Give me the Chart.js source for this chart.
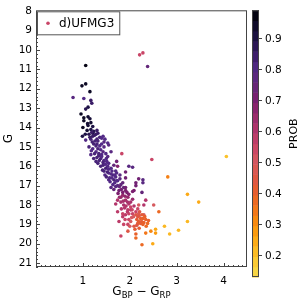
<!DOCTYPE html>
<html>
<head>
<meta charset="utf-8">
<script src="https://cdn.jsdelivr.net/npm/chart.js@4.4.1/dist/chart.umd.min.js"></script>
<style>
  html, body { margin: 0; padding: 0; background: #fff; }
  #wrap { width: 299px; height: 301px; }
</style>
</head>
<body>
<div id="wrap"><canvas id="chart" width="299" height="301"></canvas></div>
<script>
const clusterName = 'd)UFMG3';

const bpRp = [
  1.06, 0.98, 1.06, 1.15, 0.79, 1.02, 1.17, 1.19, 1.11, 1.06, 0.96, 1.11, 1.02, 1.15, 1.02, 1.17, 1.11, 1.00, 1.21, 1.17,
  1.23, 1.32, 1.09, 1.21, 2.21, 2.28, 2.38, 1.19, 1.28, 1.21, 1.43, 1.17, 1.06, 1.32, 1.45, 1.53, 1.23, 1.36, 1.13, 1.21,
  1.32, 1.45, 1.28, 1.43, 1.83, 1.17, 1.34, 1.53, 1.23, 1.45, 1.72, 1.66, 1.74, 1.32, 1.43, 1.53, 1.45, 1.55, 1.64, 1.57,
  1.66, 1.74, 1.85, 1.87, 1.74, 1.64, 1.66, 1.77, 1.91, 1.30, 1.38, 1.49, 1.38, 1.51, 1.60, 1.49, 1.62, 1.70, 1.79, 1.68,
  1.81, 1.55, 1.47, 1.26, 1.36, 1.34, 1.28, 1.47, 1.55, 1.60, 1.72, 1.79, 1.98, 2.06, 1.91, 2.19, 2.13, 2.09, 1.70, 1.91,
  2.28, 2.13, 1.91, 2.06, 2.26, 1.85, 1.74, 1.91, 2.06, 2.34, 1.98, 1.87, 2.09, 2.17, 2.30, 1.96, 2.06, 1.91, 2.19, 2.17,
  2.28, 2.19, 2.34, 1.98, 1.85, 1.77, 1.96, 2.23, 1.81, 1.96, 2.02, 1.89, 2.02, 2.13, 1.81, 1.98, 1.94, 1.70, 2.02, 2.19,
  2.51, 2.62, 1.74, 1.85, 1.98, 2.13, 2.23, 2.02, 1.87, 2.17, 2.28, 2.38, 1.96, 1.81, 2.13, 2.34, 2.45, 2.55, 2.55, 2.74,
  2.85, 2.13, 2.49, 2.26, 2.47, 4.06, 2.81, 2.28, 3.23, 3.47, 2.30, 3.23, 3.04, 2.21, 2.26, 2.15, 2.32, 2.09, 2.11, 2.04,
  1.25, 1.15, 1.40, 1.30, 1.20, 1.40, 1.28, 1.18, 1.25, 1.40, 1.30, 1.40, 1.50, 1.35, 1.43, 1.38, 1.48, 1.55, 1.42, 1.52,
  1.60, 1.50, 1.62, 1.58, 1.68, 1.72, 1.70, 1.78, 1.82, 1.75, 1.85, 1.90, 1.78, 1.86, 1.95, 1.92, 2.05, 1.82, 1.95, 2.08,
  2.20, 2.25, 2.15, 2.30, 2.35, 2.20, 2.40, 1.90, 2.00, 1.60, 1.55, 1.10, 1.05, 1.13, 0.99, 1.30
];
const gMag = [
  10.80, 11.85, 11.75, 12.15, 12.45, 12.50, 12.60, 12.75, 12.95, 13.05, 13.30, 13.45, 13.50, 13.55, 13.65, 13.75, 13.90, 14.00, 13.95, 14.10,
  14.20, 14.30, 14.15, 14.30, 10.25, 10.15, 10.85, 14.25, 14.35, 14.45, 14.45, 14.60, 14.65, 14.70, 14.75, 14.80, 14.85, 14.95, 15.00, 15.10,
  15.10, 15.00, 15.25, 15.25, 15.35, 15.40, 15.45, 15.50, 15.60, 15.70, 15.75, 15.95, 16.00, 15.85, 15.95, 16.00, 16.25, 16.35, 16.45, 16.60,
  16.70, 16.75, 16.85, 17.10, 17.00, 16.95, 17.20, 17.25, 17.25, 14.85, 15.15, 15.35, 15.60, 15.75, 16.10, 16.10, 16.25, 16.55, 16.65, 16.85,
  16.95, 15.85, 14.60, 14.70, 14.50, 15.35, 15.75, 16.45, 16.70, 17.10, 16.35, 16.45, 16.00, 16.05, 16.60, 16.65, 17.00, 17.25, 16.25, 16.30,
  16.85, 16.85, 17.10, 17.30, 17.35, 17.50, 17.75, 17.75, 17.70, 17.75, 17.95, 18.00, 18.05, 18.20, 18.00, 18.25, 18.45, 18.50, 18.45, 18.60,
  18.70, 18.85, 18.75, 18.75, 18.60, 18.85, 19.00, 18.95, 17.60, 17.60, 17.85, 18.15, 18.25, 18.35, 17.85, 17.45, 17.35, 17.95, 18.10, 18.00,
  18.00, 18.35, 18.35, 18.45, 18.45, 18.50, 18.70, 18.85, 19.00, 18.95, 19.00, 18.95, 19.35, 19.60, 19.50, 19.45, 19.35, 19.25, 19.45, 19.10,
  19.50, 19.70, 20.00, 20.05, 15.65, 15.50, 16.55, 16.70, 17.45, 17.85, 18.50, 18.85, 19.30, 18.35, 18.50, 18.75, 18.60, 19.10, 19.25, 18.65,
  14.40, 14.50, 14.55, 14.60, 14.75, 14.85, 14.95, 15.20, 15.35, 15.40, 15.55, 15.50, 15.60, 15.70, 15.80, 16.00, 15.90, 16.15, 16.20, 16.30,
  16.40, 16.55, 16.60, 16.80, 16.45, 16.75, 17.05, 17.05, 17.20, 17.40, 17.35, 17.55, 17.60, 17.80, 17.85, 18.05, 18.25, 18.20, 18.35, 18.60,
  18.55, 18.85, 19.05, 18.90, 19.10, 19.20, 18.80, 18.75, 19.10, 15.25, 14.90, 13.80, 14.35, 14.35, 14.45, 14.15
];
const prob = [
  0.97, 0.95, 0.95, 0.95, 0.78, 0.80, 0.85, 0.85, 0.90, 0.88, 0.95, 0.93, 0.95, 0.92, 0.95, 0.93, 0.92, 0.95, 0.90, 0.90,
  0.88, 0.85, 0.93, 0.90, 0.55, 0.55, 0.75, 0.85, 0.85, 0.85, 0.80, 0.82, 0.80, 0.82, 0.78, 0.80, 0.83, 0.80, 0.82, 0.80,
  0.82, 0.78, 0.80, 0.78, 0.55, 0.80, 0.82, 0.78, 0.82, 0.80, 0.72, 0.75, 0.68, 0.82, 0.82, 0.80, 0.82, 0.80, 0.82, 0.80,
  0.82, 0.80, 0.75, 0.75, 0.78, 0.80, 0.75, 0.72, 0.70, 0.82, 0.80, 0.80, 0.82, 0.80, 0.80, 0.82, 0.80, 0.80, 0.78, 0.80,
  0.76, 0.80, 0.80, 0.82, 0.82, 0.82, 0.82, 0.80, 0.80, 0.78, 0.80, 0.78, 0.78, 0.78, 0.72, 0.72, 0.72, 0.70, 0.80, 0.72,
  0.78, 0.72, 0.72, 0.70, 0.75, 0.65, 0.60, 0.62, 0.65, 0.60, 0.60, 0.62, 0.60, 0.55, 0.60, 0.58, 0.55, 0.58, 0.50, 0.45,
  0.40, 0.42, 0.40, 0.55, 0.58, 0.58, 0.55, 0.42, 0.65, 0.65, 0.62, 0.60, 0.58, 0.55, 0.62, 0.68, 0.70, 0.60, 0.55, 0.50,
  0.50, 0.38, 0.58, 0.55, 0.55, 0.45, 0.40, 0.50, 0.55, 0.42, 0.40, 0.38, 0.45, 0.55, 0.40, 0.35, 0.32, 0.25, 0.28, 0.22,
  0.22, 0.38, 0.25, 0.38, 0.55, 0.20, 0.33, 0.78, 0.25, 0.25, 0.50, 0.22, 0.22, 0.45, 0.42, 0.42, 0.40, 0.45, 0.42, 0.50,
  0.85, 0.85, 0.80, 0.82, 0.83, 0.80, 0.82, 0.80, 0.82, 0.80, 0.82, 0.80, 0.80, 0.82, 0.82, 0.82, 0.80, 0.80, 0.82, 0.82,
  0.80, 0.82, 0.80, 0.80, 0.80, 0.80, 0.78, 0.75, 0.72, 0.70, 0.70, 0.66, 0.65, 0.62, 0.62, 0.60, 0.55, 0.60, 0.58, 0.50,
  0.45, 0.42, 0.45, 0.40, 0.38, 0.42, 0.40, 0.55, 0.50, 0.78, 0.78, 0.93, 0.90, 0.88, 0.90, 0.85
];

const xTicks = [1, 2, 3, 4];
const yTicks = [8, 9, 10, 11, 12, 13, 14, 15, 16, 17, 18, 19, 20, 21];
const cbTicks = [0.2, 0.3, 0.4, 0.5, 0.6, 0.7, 0.8, 0.9];
const probMin = 0.13, probMax = 0.99;

// inferno-like, reversed (low prob = yellow, high prob = black)
const cmapStops = [
  [0.13, '#f6dc4c'], [0.20, '#fbc22a'], [0.25, '#fcaa16'], [0.30, '#f9900c'], [0.35, '#f2761b'],
  [0.40, '#e8602a'], [0.45, '#de5745'], [0.50, '#d65a5f'], [0.55, '#c94567'], [0.60, '#b3356b'],
  [0.65, '#972a6c'], [0.70, '#7b1f6f'], [0.75, '#632779'], [0.80, '#532a86'], [0.85, '#3a1c66'],
  [0.90, '#1d1245'], [0.95, '#0d0a25'], [0.99, '#000004']
];

const hexRgb = h => [1, 3, 5].map(i => parseInt(h.slice(i, i + 2), 16));
const probColor = p => {
  if (p <= cmapStops[0][0]) return cmapStops[0][1];
  for (let i = 1; i < cmapStops.length; i++) {
    if (p <= cmapStops[i][0]) {
      const [p0, c0] = cmapStops[i - 1], [p1, c1] = cmapStops[i];
      const t = (p - p0) / (p1 - p0);
      const a = hexRgb(c0), b = hexRgb(c1);
      const c = a.map((v, k) => Math.round(v + (b[k] - v) * t));
      return `rgb(${c[0]},${c[1]},${c[2]})`;
    }
  }
  return cmapStops[cmapStops.length - 1][1];
};

const FONT = "'DejaVu Sans', sans-serif";

const framePlugin = {
  id: 'frame',
  afterDatasetsDraw(chart) {
    const { ctx, chartArea: a, scales } = chart;
    ctx.save();
    ctx.strokeStyle = '#444';
    ctx.lineWidth = 1;
    // minor ticks, inward
    ctx.beginPath();
    for (let v = 8; v <= 21.2; v += 0.2) {
      const y = Math.round(scales.y.getPixelForValue(v)) + 0.5;
      ctx.moveTo(a.left, y); ctx.lineTo(a.left + 2, y);
    }
    for (let v = 0.1; v < 4.5; v += 0.1) {
      const x = Math.round(scales.x.getPixelForValue(v)) + 0.5;
      ctx.moveTo(x, a.bottom); ctx.lineTo(x, a.bottom - 2);
    }
    yTicks.forEach(v => {
      const y = Math.round(scales.y.getPixelForValue(v)) + 0.5;
      ctx.moveTo(a.left, y); ctx.lineTo(a.left + 4, y);
    });
    xTicks.forEach(v => {
      const x = Math.round(scales.x.getPixelForValue(v)) + 0.5;
      ctx.moveTo(x, a.bottom); ctx.lineTo(x, a.bottom - 4);
    });
    ctx.stroke();
    ctx.strokeRect(a.left + 0.5, a.top + 0.5, a.right - a.left - 1, a.bottom - a.top - 1);

    // legend
    ctx.font = `12px ${FONT}`;
    const tw = ctx.measureText(clusterName).width;
    const lx = a.left + 1, ly = a.top + 1, lw = tw + 28, lh = 24;
    ctx.fillStyle = '#fff';
    ctx.fillRect(lx, ly, lw, lh);
    ctx.strokeStyle = '#555';
    ctx.strokeRect(lx + 0.5, ly + 0.5, lw - 1, lh - 1);
    ctx.fillStyle = probColor(0.55);
    ctx.beginPath();
    ctx.arc(lx + 11, ly + 12, 1.8, 0, Math.PI * 2);
    ctx.fill();
    ctx.fillStyle = '#000';
    ctx.textBaseline = 'middle';
    ctx.textAlign = 'left';
    ctx.fillText(clusterName, lx + 22, ly + 12.5);

    // x axis title with subscripts
    const cx = (a.left + a.right) / 2;
    const parts = [['G', 12, 0], ['BP', 8.5, 3], [' \u2212 G', 12, 0], ['RP', 8.5, 3]];
    let total = 0;
    parts.forEach(([t, s]) => { ctx.font = `${s}px ${FONT}`; total += ctx.measureText(t).width; });
    let x = cx - total / 2;
    ctx.textBaseline = 'alphabetic';
    parts.forEach(([t, s, dy]) => {
      ctx.font = `${s}px ${FONT}`;
      ctx.fillText(t, x, 295 + dy);
      x += ctx.measureText(t).width;
    });

    // colorbar
    const cbL = a.right + 5, cbW = 7, cbT = a.top, cbB = 277;
    const pToY = p => cbT + (probMax - p) / (probMax - probMin) * (cbB - cbT);
    const nBands = 26;
    for (let i = 0; i < nBands; i++) {
      const p0 = probMin + (probMax - probMin) * i / nBands;
      const p1 = probMin + (probMax - probMin) * (i + 1) / nBands;
      ctx.fillStyle = probColor((p0 + p1) / 2);
      const y1 = pToY(p1), y0 = pToY(p0);
      ctx.fillRect(cbL, y1, cbW, y0 - y1 + 0.5);
    }
    ctx.strokeStyle = '#444';
    ctx.strokeRect(cbL + 0.5, cbT + 0.5, cbW - 1, cbB - cbT - 1);
    ctx.fillStyle = '#000';
    ctx.font = `10.5px ${FONT}`;
    ctx.textBaseline = 'middle';
    ctx.beginPath();
    cbTicks.forEach(p => {
      const y = Math.round(pToY(p)) + 0.5;
      ctx.moveTo(cbL + cbW, y); ctx.lineTo(cbL + cbW + 3, y);
      ctx.fillText(p.toFixed(1), cbL + cbW + 6, y + 0.5);
    });
    ctx.stroke();
    ctx.save();
    ctx.translate(294, (cbT + cbB) / 2 - 10);
    ctx.rotate(-Math.PI / 2);
    ctx.textAlign = 'center';
    ctx.font = `11px ${FONT}`;
    ctx.fillText('PROB', 0, 0);
    ctx.restore();
    ctx.restore();
  }
};

const points = bpRp.map((x, i) => ({ x, y: gMag[i] }));

new Chart(document.getElementById('chart').getContext('2d'), {
  type: 'scatter',
  data: {
    datasets: [{
      label: clusterName,
      data: points,
      pointBackgroundColor: prob.map(probColor),
      pointBorderWidth: 0,
      pointRadius: 1.8
    }]
  },
  options: {
    responsive: false,
    animation: false,
    layout: { padding: { left: 0, right: 52, top: 2, bottom: 0 } },
    plugins: { legend: { display: false }, tooltip: { enabled: false } },
    scales: {
      x: {
        type: 'linear', min: 0, max: 4.5,
        grid: { display: false, drawTicks: false },
        border: { display: false },
        afterBuildTicks: s => { s.ticks = xTicks.map(v => ({ value: v })); },
        afterFit: s => { s.height = 34; },
        ticks: { color: '#000', padding: 8, font: { family: FONT, size: 10.5 } }
      },
      y: {
        type: 'linear', min: 7.95, max: 21.2, reverse: true,
        grid: { display: false, drawTicks: false },
        border: { display: false },
        afterBuildTicks: s => { s.ticks = yTicks.map(v => ({ value: v })); },
        afterFit: s => { s.width = 36; },
        title: { display: true, text: 'G', color: '#000', padding: 2, font: { family: FONT, size: 12 } },
        ticks: { color: '#000', padding: 4, font: { family: FONT, size: 10.5 } }
      }
    }
  },
  plugins: [framePlugin]
});
</script>
</body>
</html>
